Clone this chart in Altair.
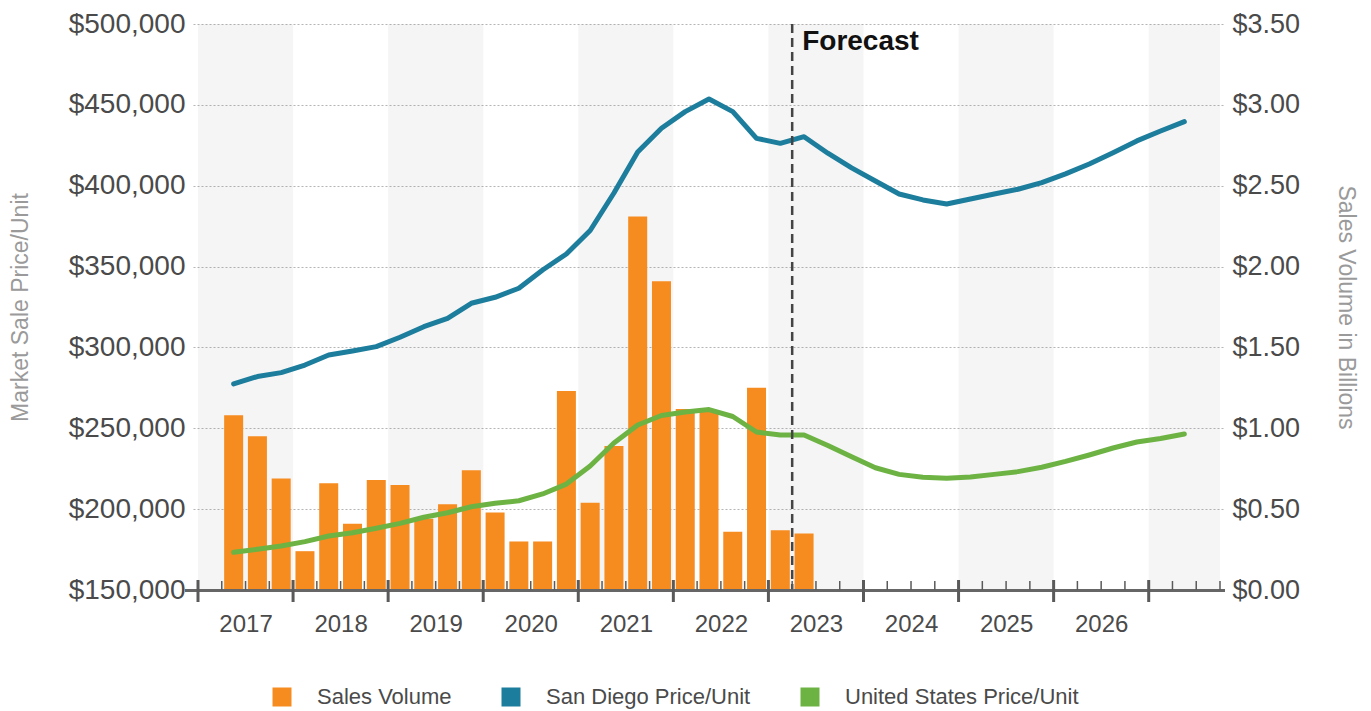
import altair as alt
import pandas as pd

# ---------------- data ----------------
quarter_labels = [f"{y} Q{q}" for y in range(2017, 2028) for q in range(1, 5)]
line_quarters = quarter_labels[1:42]   # 2017 Q2 .. 2027 Q2
bar_quarters = quarter_labels[1:26]    # 2017 Q2 .. 2023 Q2

sales_volume = [1.08, 0.95, 0.69, 0.24, 0.66, 0.41, 0.68, 0.65, 0.44, 0.53,
                0.74, 0.48, 0.30, 0.30, 1.23, 0.54, 0.89, 2.31, 1.91, 1.12,
                1.10, 0.36, 1.25, 0.37, 0.35]

san_diego = [277400, 282000, 284400, 289100, 295300, 297800, 300500, 306300,
             312800, 318000, 327300, 331000, 336600, 347900, 357800, 372300,
             395500, 420900, 435500, 445800, 453600, 445800, 429300, 426200,
             430300, 420100, 411000, 402900, 394900, 391200, 388700, 391800,
             394900, 397800, 401900, 407300, 413400, 420400, 427700, 433800,
             439600]

united_states = [173300, 175200, 177200, 179900, 183400, 185400, 188200, 191200,
                 195000, 197800, 201500, 203600, 205200, 209400, 215500, 226700,
                 240900, 252000, 257900, 260100, 261600, 257300, 247700, 245900,
                 245900, 239400, 232400, 225600, 221500, 219700, 219100, 219900,
                 221500, 223200, 225900, 229500, 233500, 237800, 241500, 243700,
                 246500]

series_names = ["Sales Volume", "San Diego Price/Unit", "United States Price/Unit"]
series_colors = ["#F68B1F", "#1C7D9C", "#6DB344"]

year_labels = list(range(2017, 2027))
band_years = [2017, 2019, 2021, 2023, 2025, 2027]
axis_end = 2027.75
forecast_start = 2023.25
forecast_label = "Forecast"

left_ticks = [150000, 200000, 250000, 300000, 350000, 400000, 450000, 500000]
right_ticks = [0, 0.5, 1.0, 1.5, 2.0, 2.5, 3.0, 3.5]


def qpos(label):
    y, q = label.split(" Q")
    return int(y) + (int(q) - 1) / 4 + 0.125


bar_df = pd.DataFrame({"pos": [qpos(q) for q in bar_quarters],
                       "volume": sales_volume,
                       "series": series_names[0]})
line_df = pd.concat([
    pd.DataFrame({"pos": [qpos(q) for q in line_quarters], "price": san_diego,
                  "series": series_names[1]}),
    pd.DataFrame({"pos": [qpos(q) for q in line_quarters], "price": united_states,
                  "series": series_names[2]}),
])
legend_df = pd.DataFrame({"series": series_names})
band_df = pd.DataFrame({"start": band_years,
                        "end": [min(y + 1, axis_end) for y in band_years]})
major_df = pd.DataFrame({"pos": list(range(2017, 2028))})
minor_df = pd.DataFrame({"pos": [y + k / 4 for y in range(2017, 2028) for k in (1, 2, 3)
                                 if y + k / 4 <= axis_end]})
fc_df = pd.DataFrame({"pos": [forecast_start], "label": [forecast_label]})

W, H = 1032, 566
LABEL = "#4a4a4a"
TITLE = "#9a9a9a"

xscale = alt.Scale(domain=[2017, axis_end], nice=False, zero=False)
xaxis = alt.Axis(values=[y + 0.5 for y in year_labels], labelExpr="floor(datum.value)",
                 title=None, grid=False, ticks=False, domain=False,
                 labelFontSize=24, labelColor=LABEL, labelPadding=22)


def X(field):
    return alt.X(field, type="quantitative", scale=xscale, axis=xaxis)


cscale = alt.Scale(domain=series_names, range=series_colors)
color_nolegend = alt.Color("series:N", scale=cscale, legend=None)
color_legend = alt.Color("series:N", scale=cscale,
                         legend=alt.Legend(orient="none", direction="horizontal", title=None,
                                           legendX=78, legendY=662,
                                           symbolType="square", symbolSize=361,
                                           symbolStrokeWidth=0, labelFontSize=22,
                                           labelColor=LABEL, labelOffset=24,
                                           labelLimit=500, columnPadding=48))

bands = alt.Chart(band_df).mark_rect(color="#7a7a7a", opacity=0.075).encode(
    x=X("start"), x2="end", y=alt.value(0), y2=alt.value(H))

bars = alt.Chart(bar_df).mark_bar(size=19).encode(
    x=X("pos"),
    y=alt.Y("volume:Q", scale=alt.Scale(domain=[0, 3.5], nice=False),
            axis=alt.Axis(orient="right", values=right_ticks, format="$.2f",
                          grid=False, ticks=False, domain=False,
                          labelFontSize=27, labelColor=LABEL, labelPadding=7,
                          title="Sales Volume in Billions", titleFontSize=23,
                          titleFontWeight="normal", titleColor=TITLE,
                          titleAngle=90, titleX=120, titleY=H / 2,
                          titleAlign="center", titleBaseline="middle")),
    color=color_nolegend)

lines = alt.Chart(line_df).mark_line(strokeWidth=5, strokeJoin="round",
                                     strokeCap="round").encode(
    x=X("pos"),
    y=alt.Y("price:Q", scale=alt.Scale(domain=[150000, 500000], nice=False, zero=False),
            axis=alt.Axis(orient="left", values=left_ticks, format="$,.0f",
                          grid=True, gridDash=[2, 2], gridColor="#b5b5b5",
                          gridWidth=1, ticks=False, domain=False,
                          labelFontSize=28, labelColor=LABEL, labelPadding=8,
                          title="Market Sale Price/Unit", titleFontSize=23,
                          titleFontWeight="normal", titleColor=TITLE,
                          titleAngle=-90, titleX=-173, titleY=H / 2,
                          titleAlign="center", titleBaseline="middle")),
    color=color_nolegend,
    detail="series:N")

legend_layer = alt.Chart(legend_df).mark_square(size=361, opacity=1).encode(
    x=alt.value(-3000), y=alt.value(-3000), color=color_legend)

fc_rule = alt.Chart(fc_df).mark_rule(color="#444444", strokeWidth=2.5,
                                     strokeDash=[9, 5]).encode(
    x=X("pos"), y=alt.value(0), y2=alt.value(H))

fc_text = alt.Chart(fc_df).mark_text(align="left", baseline="middle", dx=10,
                                     fontSize=28, fontWeight="bold",
                                     color="#111111").encode(
    x=X("pos"), y=alt.value(18), text="label:N")

domain_line = alt.Chart(alt.Data(values=[{"a": 1}])).mark_rule(
    color="#666666", strokeWidth=3).encode(
    x=alt.value(-8), x2=alt.value(W), y=alt.value(H + 0.5))

major_ticks = alt.Chart(major_df).mark_rule(color="#5a5a5a", strokeWidth=3).encode(
    x=X("pos"), y=alt.value(H - 10), y2=alt.value(H + 12))

minor_ticks = alt.Chart(minor_df).mark_rule(color="#5a5a5a", strokeWidth=1.5).encode(
    x=X("pos"), y=alt.value(H - 9), y2=alt.value(H))

chart = alt.layer(bands, bars, lines, legend_layer, fc_rule, fc_text, domain_line,
                  major_ticks, minor_ticks).resolve_scale(
    y="independent", color="independent"
).properties(
    width=W, height=H,
    autosize=alt.AutoSizeParams(type="none"),
    padding={"left": 193, "top": 24, "right": 146, "bottom": 121},
    background="white",
).configure(font="Liberation Sans").configure_view(stroke=None)

chart.save("out.html", embed_options={"renderer": "svg", "actions": False})
